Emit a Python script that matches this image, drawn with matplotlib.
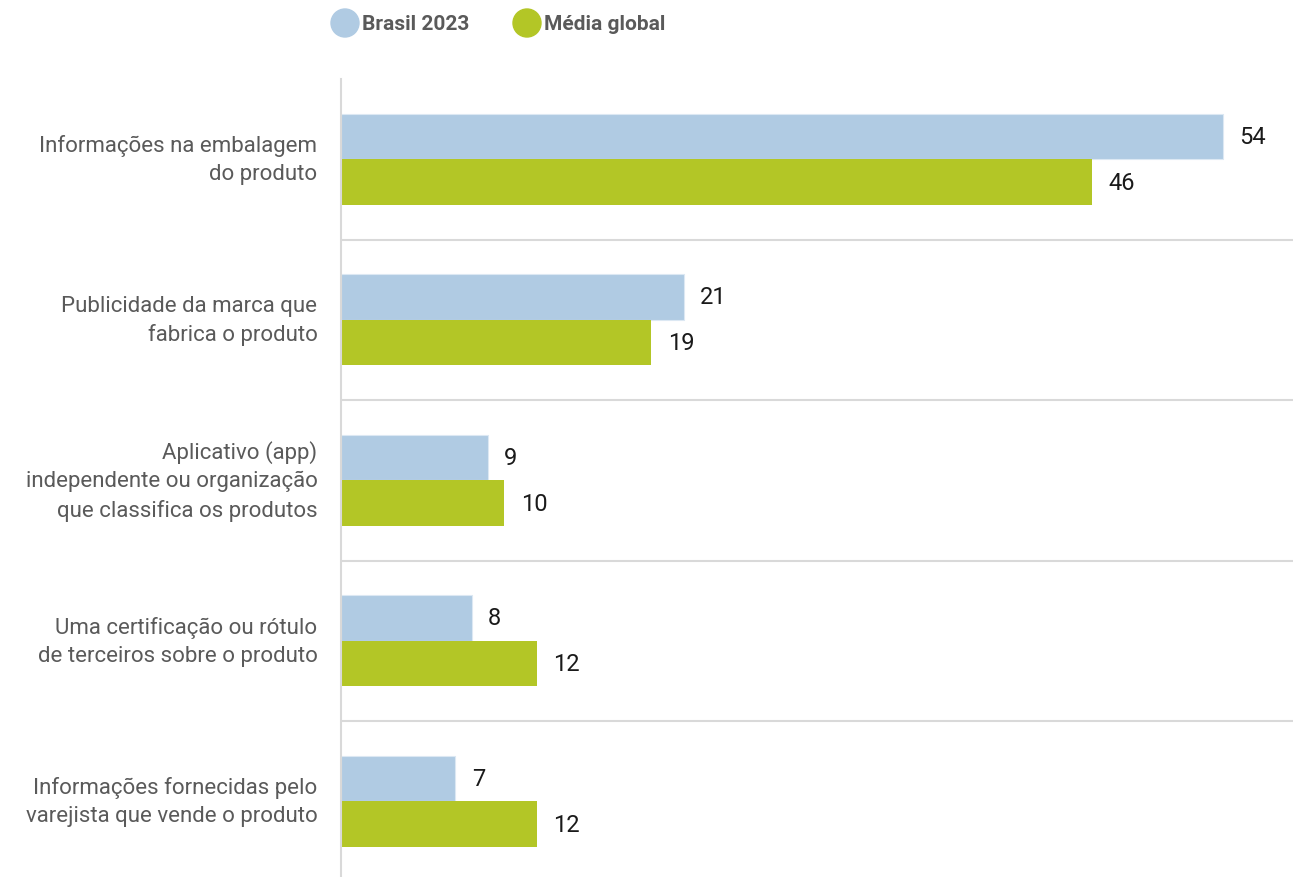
import matplotlib.pyplot as plt
import matplotlib.transforms as mtransforms
import numpy as np
from matplotlib.patches import Ellipse

# Dados do gráfico
categorias = [
    "Informações na embalagem\ndo produto",
    "Publicidade da marca que\nfabrica o produto",
    "Aplicativo (app)\nindependente ou organização\nque classifica os produtos",
    "Uma certificação ou rótulo\nde terceiros sobre o produto",
    "Informações fornecidas pelo\nvarejista que vende o produto",
]
brasil_2023 = [54, 21, 9, 8, 7]
media_global = [46, 19, 10, 12, 12]
series_nomes = ["Brasil 2023", "Média global"]

cor_brasil = "#b0cbe3"
cor_global = "#b3c626"
cor_texto = "#5a5a5a"
cor_linha = "#d9d9d9"

plt.rcParams["font.family"] = ["Roboto", "DejaVu Sans"]

fig = plt.figure(figsize=(12.93, 8.78), dpi=100)
W, H = 1293, 878
ax = fig.add_axes([341 / W, 0, (W - 341) / W, (H - 80) / H])

y = np.arange(len(categorias))
h = 0.284
ax.barh(y - h / 2, brasil_2023, height=h, color=cor_brasil, edgecolor="#dce8f3", linewidth=0.8)
ax.barh(y + h / 2, media_global, height=h, color=cor_global, linewidth=0)

# rótulos de valor
for i, (a, b) in enumerate(zip(brasil_2023, media_global)):
    ax.text(a + 1.0, i - h / 2, str(a), va="center", ha="left", fontsize=17, color="#1a1a1a")
    ax.text(b + 1.0, i + h / 2, str(b), va="center", ha="left", fontsize=17, color="#1a1a1a")

# separadores entre grupos
for k in range(len(categorias) - 1):
    ax.axhline(k + 0.5, color=cor_linha, linewidth=1.5, zorder=0)

ax.set_xlim(0, 952 / 16.33)
ax.set_ylim(-0.5 + 798 / 160.5, -0.5)

for s in ["top", "right", "bottom"]:
    ax.spines[s].set_visible(False)
ax.spines["left"].set_color(cor_linha)
ax.spines["left"].set_linewidth(1.5)
ax.set_xticks([])
ax.set_yticks(y)
ax.set_yticklabels(categorias, fontsize=16, color=cor_texto, linespacing=1.45)
ax.tick_params(axis="y", length=0, pad=17)
desloc = mtransforms.ScaledTranslation(0, 0.06, fig.dpi_scale_trans)
for lbl in ax.get_yticklabels():
    lbl.set_transform(lbl.get_transform() + desloc)

# legenda
leg_x = [345, 527]
for cx, nome, cor in zip(leg_x, series_nomes, [cor_brasil, cor_global]):
    fig.add_artist(Ellipse((cx / W, 1 - 24 / H), 28 / W, 28 / H, color=cor,
                           transform=fig.transFigure))
    fig.text((cx + 17) / W, 1 - 24 / H, nome, ha="left", va="center", fontsize=15,
             fontweight="bold", color=cor_texto)

fig.savefig("out.png", dpi=100)
